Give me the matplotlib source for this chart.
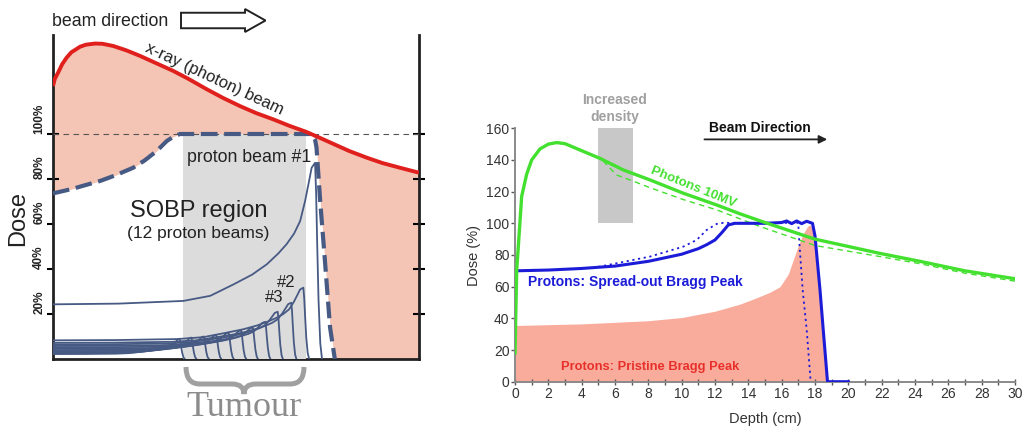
import numpy as np
import matplotlib.pyplot as plt
from matplotlib.patches import FancyArrow, PathPatch
from matplotlib.path import Path
from matplotlib.transforms import IdentityTransform

plt.rcParams['font.family'] = ['Liberation Sans', 'DejaVu Sans']

# ---------------- left panel data (depth in % of panel width, dose in %) ----------------
xray_x = [0, 0.5, 1.4, 2.5, 3.7, 5.0, 7.4, 9.0, 11.5, 13.5, 16.5, 20.0, 23.8, 28.0, 32.9, 37.0,
          42.0, 46.5, 51.1, 55.5, 60.2, 64.5, 69.1, 72.5, 76.6, 81.0, 85.7, 90.0, 94.8, 100]
xray_dose = [121.3, 124.5, 127.3, 131.0, 133.9, 136.3, 138.8, 139.7, 140.2, 140.1, 139.1, 137.2, 134.7,
             131.6, 128.0, 124.5, 119.9, 116.0, 112.4, 109.3, 106.5, 103.7, 101.0, 98.6, 95.6, 92.4,
             89.5, 87.1, 85.0, 82.8]

sobp_x = [0, 5, 12.8, 17, 21.9, 25, 28.3, 31.1, 32.9, 34.7, 70.7, 71.6, 72.0, 73.0, 74.3, 75.7, 77.0]
sobp_dose = [73.6, 75.5, 79.1, 81.6, 85.0, 88.2, 92.4, 96.9, 98.8, 100, 100, 97.5, 94, 70.2, 43.6, 14, 0]

tumour_x = [35.5, 69.1]

# 12 pristine beams (#1 .. #12)
beam_peak_x = [71.6, 68.4, 65.1, 61.4, 58.0, 54.6, 51.4, 48.0, 44.6, 41.2, 37.8, 34.6]
beam_peak_dose = [87.2, 31.7, 25.0, 21.0, 16.5, 14.0, 12.7, 11.7, 10.7, 10.0, 9.5, 9.0]
beam_entry_dose = [24.3, 8.3, 7.2, 6.5, 5.8, 5.2, 4.6, 4.0, 3.5, 3.0, 2.6, 2.2]
beam_falloff = [1.9, 1.6, 1.4, 1.4, 1.4, 1.4, 1.4, 1.4, 1.4, 1.4, 1.4, 1.4]

# Bragg curve profile read from beam #1
rise_u = [0, 0.25, 0.497, 0.6, 0.689, 0.76, 0.816, 0.86, 0.891, 0.92, 0.943, 0.962, 0.977, 0.987, 1.0]
rise_g = [0, 0.005, 0.024, 0.06, 0.141, 0.21, 0.283, 0.36, 0.424, 0.5, 0.588, 0.73, 0.87, 0.965, 1.0]
fall_u = [0.15, 0.3, 0.5, 0.75, 1.0]
fall_g = [0.85, 0.6, 0.3, 0.08, 0.0]

left_ticks = [20, 40, 60, 80, 100]

# ---------------- right panel data ----------------
ph_depth = [0, 0.1, 0.4, 0.7, 1.0, 1.5, 2.0, 2.5, 3.0, 3.9, 5.1, 6.5, 8.1, 10.1, 12.1, 13.5, 15.0,
            18.0, 21.9, 24.3, 27.0, 30.0]
ph_dose = [18, 70, 117, 131, 140, 147, 150, 151, 150.3, 146.3, 141, 133.7, 127.4, 119, 111.6, 106,
           100.5, 90, 81, 76, 70, 65]

ph2_depth = [5.3, 5.5, 6.1, 7.0, 8.1, 10.1, 12.1, 14.7, 18.0, 21.9, 24.3, 27.0, 30.0]
ph2_dose = [139.5, 137, 130.5, 127, 122.5, 115, 108.5, 98, 86, 79, 74.5, 68.5, 63.5]

sobp_depth = [0, 2, 4, 6, 8, 10, 11, 11.5, 12, 12.4, 12.8, 13.2, 14, 15, 16, 16.3, 16.6, 16.9,
              17.2, 17.5, 17.85, 18.0, 18.15, 18.3, 18.5, 18.75, 20]
sobp_pct = [70, 70.5, 71.5, 73, 76, 80.5, 84, 86.5, 89.5, 94, 99, 100, 100, 100, 100.5, 101.5, 99.8, 101.5,
            99.8, 101.3, 100, 92, 75, 58, 32, 0, 0]

sobp2_depth = [5, 6.1, 8.1, 10.1, 10.9, 11.5, 12.1, 12.5, 17.0, 17.02, 17.26, 17.5, 17.74]
sobp2_pct = [72.5, 74.8, 79, 85.3, 89.5, 95.8, 99.6, 100.3, 100.3, 94, 58, 33, 0]

bragg_depth = [0, 4, 8, 10, 12, 13.5, 14.5, 15.3, 15.9, 16.4, 16.7, 17.0, 17.3, 17.55, 17.7, 17.85,
               18.05, 18.2, 18.4, 18.6, 18.72]
bragg_pct = [35.5, 36.5, 38.5, 40.5, 44.5, 49, 53, 56.5, 60, 68, 77, 86, 93.5, 98, 99, 97,
             85, 66, 40, 14, 0]

density_box = [5.0, 7.06, 100, 160]

W, H = 1028, 430
fig = plt.figure(figsize=(W / 100, H / 100), dpi=100)

# ======================= LEFT PANEL =======================
ax1 = fig.add_axes([53 / W, 1 - 359 / H, 366 / W, 324 / H])
ax1.set_xlim(0, 100)
ax1.set_ylim(0, 144)

salmon = '#f4c4b4'
slate = '#475a84'
ax1.fill_between(xray_x, 0, xray_dose, color=salmon, lw=0, zorder=1)
ax1.fill_between(sobp_x, 0, sobp_dose, color='white', lw=0, zorder=2)
ax1.fill_between(tumour_x, 0, 100, color='#dcdcdc', lw=0, zorder=3)
ax1.axhline(100, color='#555555', lw=0.8, ls=(0, (5, 4)), zorder=4)

for p, h, e, w in zip(beam_peak_x, beam_peak_dose, beam_entry_dose, beam_falloff):
    bx = [u * p for u in rise_u] + [p + u * w for u in fall_u]
    by = [e + (h - e) * g for g in rise_g] + [h * g for g in fall_g]
    ax1.plot(bx, by, color=slate, lw=1.3, zorder=5)

ax1.plot(sobp_x, sobp_dose, color=slate, lw=3.0, ls=(0, (4, 1.6)), zorder=6)
ax1.plot(xray_x, xray_dose, color='#e0201c', lw=2.8, zorder=7, solid_capstyle='butt')

ax1.spines['top'].set_visible(False)
for s in ['left', 'right', 'bottom']:
    ax1.spines[s].set_linewidth(2)
    ax1.spines[s].set_color('#222222')
ax1.set_xticks([])
ax1.set_yticks(left_ticks)
ax1.set_yticklabels([f'{t}%' for t in left_ticks], rotation=90, va='bottom',
                    fontsize=8.5, fontweight='bold', color='#222222')
ax1.tick_params(axis='y', direction='inout', length=9, width=1.5, right=True, pad=1)

ax1.text(-0.095, 0.435, 'Dose', transform=ax1.transAxes, rotation=90, fontsize=17,
         ha='center', va='center', color='#222222')
ax1.text(44, 124.4, 'x-ray (photon) beam', rotation=-25, fontsize=12, ha='center', va='center',
         color='#222222', zorder=8, rotation_mode='anchor')
ax1.text(53.6, 89.5, 'proton beam #1', fontsize=12.8, ha='center', va='center', color='#222222', zorder=8)
ax1.text(39.9, 65.8, 'SOBP region', fontsize=17, ha='center', va='center', color='#222222', zorder=8)
ax1.text(39.8, 55.6, '(12 proton beams)', fontsize=12.5, ha='center', va='center', color='#222222', zorder=8)
ax1.text(63.7, 33.8, '#2', fontsize=12, ha='center', va='center', color='#222222', zorder=8)
ax1.text(60.4, 27.2, '#3', fontsize=12, ha='center', va='center', color='#222222', zorder=8)

# beam direction (top left)
fig.text(52 / W, 1 - 21 / H, 'beam direction', fontsize=12.8, ha='left', va='center', color='#222222')
fig.patches.append(FancyArrow(181, H - 20.5, 84.5, 0, width=15.5, head_width=23, head_length=20.5,
                              length_includes_head=True, transform=IdentityTransform(),
                              facecolor='white', edgecolor='#222222', lw=1.4, figure=fig))

# tumour brace
brace = [(186, 367), (186, 384), (200, 384), (232, 384), (244, 384), (244, 394),
         (244, 384), (256, 384), (290, 384), (304, 384), (304, 367)]
codes = [Path.MOVETO, Path.CURVE3, Path.CURVE3, Path.LINETO, Path.CURVE3, Path.CURVE3,
         Path.CURVE3, Path.CURVE3, Path.LINETO, Path.CURVE3, Path.CURVE3]
bpath = Path([(x, H - y) for x, y in brace], codes)
fig.patches.append(PathPatch(bpath, transform=IdentityTransform(), facecolor='none',
                             edgecolor='#a0a0a0', lw=3.6, figure=fig))
fig.text(244 / W, 1 - 407 / H, 'Tumour', fontsize=26, family='Liberation Serif', color='#8c8c8c',
         ha='center', va='center')

# ======================= RIGHT PANEL =======================
ax2 = fig.add_axes([515 / W, 1 - 381.7 / H, 500 / W, 253.4 / H])
ax2.set_xlim(0, 30)
ax2.set_ylim(0, 160)

green = '#44e030'
blue = '#1c1cd8'
ax2.fill_between(bragg_depth, 0, bragg_pct, color='#f9ab9c', lw=0, zorder=1)
ax2.fill_between(density_box[:2], density_box[2], density_box[3], color='#c8c8c8', lw=0, zorder=1)
ax2.plot(ph2_depth, ph2_dose, color=green, lw=1.0, ls=(0, (4, 3)), zorder=3)
ax2.plot(sobp2_depth, sobp2_pct, color=blue, lw=1.3, ls=(0, (1.2, 2)), zorder=3)
ax2.plot(sobp_depth, sobp_pct, color=blue, lw=2.2, zorder=4)
ax2.plot(ph_depth, ph_dose, color=green, lw=2.4, zorder=5)

ax2.spines['top'].set_visible(False)
ax2.spines['right'].set_visible(False)
for s in ['left', 'bottom']:
    ax2.spines[s].set_linewidth(1.4)
    ax2.spines[s].set_color('#8a8a8a')
ax2.set_xticks(np.arange(0, 31, 2))
ax2.set_xticks(np.arange(0, 31, 1), minor=True)
ax2.set_yticks(np.arange(0, 161, 20))
ax2.tick_params(axis='x', which='both', direction='inout', length=4, width=1, colors='#555555',
                labelcolor='#333333', labelsize=10, pad=2)
ax2.tick_params(axis='y', direction='out', length=3, width=1, colors='#555555',
                labelcolor='#333333', labelsize=10, pad=1)
ax2.set_xlabel('Depth (cm)', fontsize=10.5, color='#333333', labelpad=8)
ax2.set_ylabel('Dose (%)', fontsize=10.5, color='#333333', labelpad=4)

ax2.text(6.0, 178, 'Increased', fontsize=10, fontweight='bold', color='#a0a0a0', ha='center', va='center',
         clip_on=False)
ax2.text(6.0, 167, 'density', fontsize=10, fontweight='bold', color='#a0a0a0', ha='center', va='center',
         clip_on=False)
ax2.text(14.7, 160.5, 'Beam Direction', fontsize=10, fontweight='bold', color='#111111', ha='center',
         va='center', clip_on=False)
ax2.annotate('', xy=(18.9, 153), xytext=(11.2, 153), annotation_clip=False,
             arrowprops=dict(arrowstyle='-|>', color='#222222', lw=1.3, mutation_scale=12))
ax2.text(10.7, 122.6, 'Photons 10MV', fontsize=9.5, fontweight='bold', color=green, rotation=-22,
         ha='center', va='center')
ax2.text(0.75, 63.2, 'Protons: Spread-out Bragg Peak', fontsize=10, fontweight='bold', color=blue,
         ha='left', va='center')
ax2.text(8.1, 9.5, 'Protons: Pristine Bragg Peak', fontsize=9.3, fontweight='bold', color='#e8302a',
         ha='center', va='center')

fig.savefig('out.png', dpi=100)
